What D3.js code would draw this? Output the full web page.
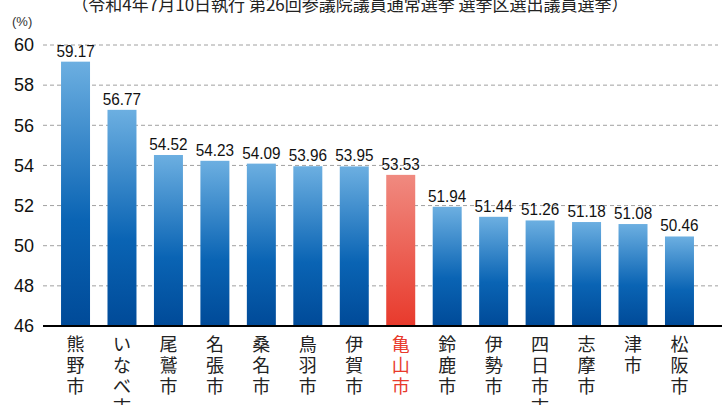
<!DOCTYPE html>
<html>
<head>
<meta charset="utf-8">
<script src="https://cdn.jsdelivr.net/npm/d3@7"></script>
<style>
  body { margin: 0; background: #fff; }
  svg { display: block; }
  .num { font-family: "Liberation Sans Narrow", "Arial Narrow", "Liberation Sans", sans-serif; }
  .jp { font-family: "Noto Sans CJK JP", sans-serif; }
</style>
</head>
<body>
<div id="chart"></div>
<script>
// Voter turnout by city (%)
const cities = ["熊野市", "いなべ市", "尾鷲市", "名張市", "桑名市", "鳥羽市", "伊賀市",
  "亀山市", "鈴鹿市", "伊勢市", "四日市市", "志摩市", "津市", "松阪市"];
const turnout = [59.17, 56.77, 54.52, 54.23, 54.09, 53.96, 53.95,
  53.53, 51.94, 51.44, 51.26, 51.18, 51.08, 50.46];
const yTicks = [46, 48, 50, 52, 54, 56, 58, 60];
const highlight = "亀山市";
const title = "（令和4年7月10日執行 第26回参議院議員通常選挙 選挙区選出議員選挙）";

const W = 722, H = 405;
const svg = d3.select("#chart").append("svg")
  .attr("width", W).attr("height", H);

const defs = svg.append("defs");
const blue = defs.append("linearGradient").attr("id", "gBlue")
  .attr("x1", 0).attr("y1", 0).attr("x2", 0).attr("y2", 1);
blue.append("stop").attr("offset", "0%").attr("stop-color", "#6cafe1");
blue.append("stop").attr("offset", "60%").attr("stop-color", "#0a64b4");
blue.append("stop").attr("offset", "100%").attr("stop-color", "#004a98");
const red = defs.append("linearGradient").attr("id", "gRed")
  .attr("x1", 0).attr("y1", 0).attr("x2", 0).attr("y2", 1);
red.append("stop").attr("offset", "0%").attr("stop-color", "#f08a80");
red.append("stop").attr("offset", "100%").attr("stop-color", "#e83a2c");

const x = d3.scaleBand().domain(cities).range([52.3, 702.7])
  .paddingInner(0.376).paddingOuter(0.188);
const y = d3.scaleLinear().domain([46, 60]).range([326, 45]);

// grid lines
svg.append("g").selectAll("line")
  .data(yTicks.filter(d => d > 46))
  .enter().append("line")
  .attr("x1", 43).attr("x2", 718)
  .attr("y1", d => y(d)).attr("y2", d => y(d))
  .style("stroke", "#a0a0a0").style("stroke-width", 1)
  .style("stroke-dasharray", "4,3");

// y axis labels
const yAxis = svg.append("g")
  .attr("transform", "translate(34,0)")
  .call(d3.axisLeft(y).tickValues(yTicks).tickSize(0).tickPadding(0));
yAxis.select(".domain").remove();
yAxis.selectAll("text")
  .attr("class", "num")
  .style("font-size", "18px").style("fill", "#111");

svg.append("text").attr("class", "num")
  .attr("x", 12).attr("y", 26)
  .style("font-size", "13px").style("fill", "#333")
  .text("(%)");

// bars
svg.append("g").selectAll("rect")
  .data(cities)
  .enter().append("rect")
  .attr("x", d => x(d))
  .attr("width", x.bandwidth())
  .attr("y", (d, i) => y(turnout[i]))
  .attr("height", (d, i) => y(46) - y(turnout[i]))
  .attr("fill", d => d === highlight ? "url(#gRed)" : "url(#gBlue)");

// baseline
svg.append("line")
  .attr("x1", 43).attr("x2", W)
  .attr("y1", y(46)).attr("y2", y(46))
  .style("stroke", "#000").style("stroke-width", 2);

// value labels (slightly condensed)
svg.append("g").selectAll("text")
  .data(cities)
  .enter().append("text")
  .attr("class", "num")
  .attr("transform", (d, i) =>
    `translate(${x(d) + x.bandwidth() / 2},${y(turnout[i]) - 5}) scale(0.9,1)`)
  .attr("text-anchor", "middle")
  .style("font-size", "17px").style("fill", "#111")
  .text((d, i) => turnout[i].toFixed(2));

// vertical city labels
const labels = svg.append("g").selectAll("text")
  .data(cities)
  .enter().append("text")
  .attr("class", "jp")
  .attr("text-anchor", "middle")
  .style("font-size", "18px")
  .style("fill", d => d === highlight ? "#e83a2c" : "#222");
labels.selectAll("tspan")
  .data(d => Array.from(d).map(c => ({ c, city: d })))
  .enter().append("tspan")
  .attr("x", d => x(d.city) + x.bandwidth() / 2)
  .attr("y", (d, i) => 351 + i * 21)
  .text(d => d.c);

// title (cropped at top)
svg.append("text").attr("class", "jp")
  .attr("x", 350).attr("y", 11)
  .attr("text-anchor", "middle")
  .style("font-size", "17px").style("fill", "#222")
  .text(title);
</script>
</body>
</html>
